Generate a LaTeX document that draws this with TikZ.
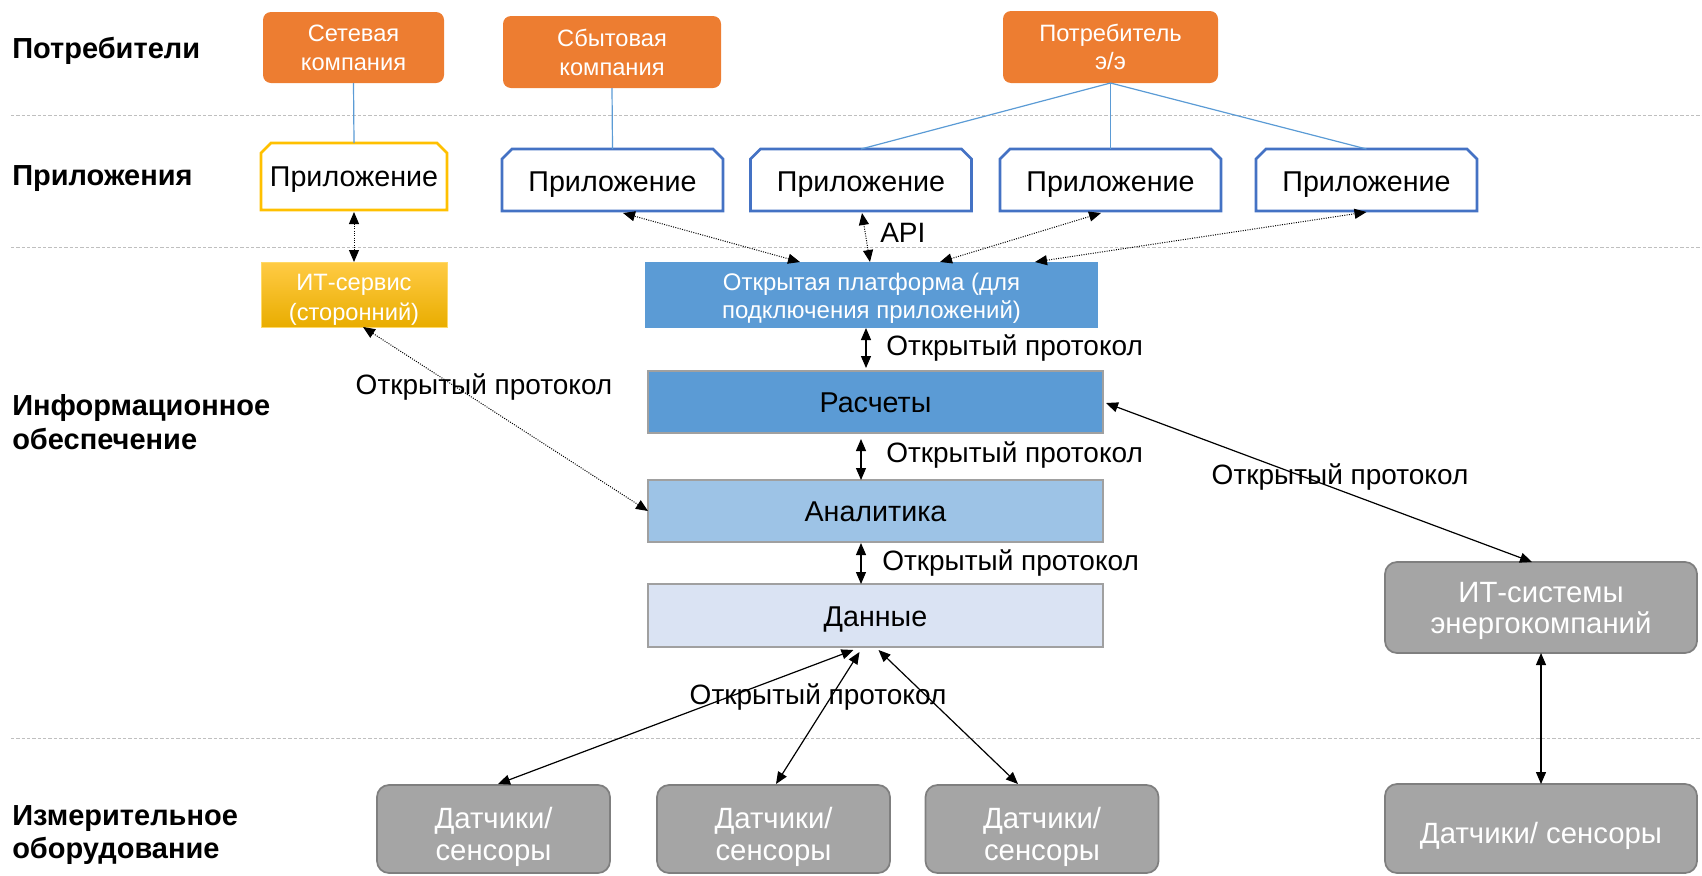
\documentclass[tikz,border=0pt]{standalone}
\usepackage{fontspec}
\setmainfont{Liberation Sans}
\usetikzlibrary{arrows.meta,calc}

\definecolor{orangeC}{HTML}{ED7D31}
\definecolor{blueC}{HTML}{5B9BD5}
\definecolor{blueL}{HTML}{9DC3E6}
\definecolor{blueP}{HTML}{DAE3F3}
\definecolor{appBlue}{HTML}{4472C4}
\definecolor{appGold}{HTML}{FFC000}
\definecolor{grayF}{HTML}{A5A5A5}
\definecolor{grayD}{HTML}{7F7F7F}
\definecolor{layerEdge}{HTML}{A0A0A0}
\definecolor{sepC}{HTML}{BFBFBF}
\definecolor{goldT}{HTML}{FFCB45}
\definecolor{goldB}{HTML}{E9AD00}
\definecolor{goldEdge}{HTML}{FFD966}

\newcommand{\fsz}[2]{\fontsize{#1}{#2}\selectfont}
% stacked lines, baseline on the first line
\newcommand{\mlines}[1]{\begin{tabular}[t]{@{}c@{}}#1\end{tabular}}
\newcommand{\llines}[1]{\begin{tabular}[t]{@{}l@{}}#1\end{tabular}}

\begin{document}
\begin{tikzpicture}[x=0.75pt,y=-0.75pt,
  >={Triangle[length=9pt,width=7.5pt]},
  sz/.style 2 args={minimum width=#1*0.75pt,minimum height=#2*0.75pt},
  tb/.style 2 args={text height=#1,text depth=#2},
  basebox/.style={inner sep=0pt,outer sep=0pt},
  consumer/.style={basebox,rounded corners=6pt,fill=orangeC,text=white,font=\fsz{17.75}{21.75}},
  appbox/.style={basebox,font=\fsz{21.5}{25}},
  itserv/.style={basebox,top color=goldT,bottom color=goldB,draw=goldEdge,
    line width=0.6pt,text=white,font=\fsz{17.75}{22.5}},
  layer/.style={basebox,draw=layerEdge,line width=0.8pt,font=\fsz{21.5}{25},tb={15pt}{0pt}},
  grayb/.style={basebox,rounded corners=9pt,fill=grayF,draw=grayD,line width=1.3pt,
    text=white,font=\fsz{22}{24}},
  rowlabel/.style={inner sep=0pt,font=\bfseries\fsz{21.75}{26}},
  plab/.style={inner sep=0pt,font=\fsz{21}{24}},
  sep/.style={sepC,line width=0.75pt,dash pattern=on 2.5pt off 1.5pt},
  link/.style={blueC,line width=0.9pt},
  flow/.style={<->,line width=0.9pt},
  dflow/.style={<->,line width=0.75pt,densely dotted}
]
\useasboundingbox (0,0) rectangle (1702,875);

% row separators
\draw[sep] (11,115) -- (1702,115);
\draw[sep] (11,247) -- (1702,247);
\draw[sep] (11,738) -- (1702,738);

% row titles
\node[rowlabel,anchor=base west] (tcons) at (12,58) {Потребители};
\node[rowlabel,anchor=base west] (tapps) at (12,185) {Приложения};
\node[rowlabel,anchor=base west] (tinfo) at (12,415) {\llines{Информационное\\обеспечение}};
\node[rowlabel,anchor=base west,font=\bfseries\fsz{21.75}{24.75}] (tmeas) at (12,825)
  {\llines{Измерительное\\оборудование}};

% consumers
\node[consumer,sz={181}{71},tb={0pt}{8.7pt}] (net)  at (353.5,47.5) {\mlines{Сетевая\\компания}};
\node[consumer,sz={218}{72},tb={0pt}{8pt}]   (sale) at (612,52)     {\mlines{Сбытовая\\компания}};
\node[consumer,sz={215}{72},tb={0pt}{9pt},font=\fsz{17.75}{21}] (user) at (1110.5,47) {\mlines{Потребитель\\э/э}};

% applications
\node[appbox,sz={186}{67},tb={15pt}{0pt}]    (app0) at (354,176.5)  {Приложение};
\node[appbox,sz={221}{62},tb={17.25pt}{0pt}] (app1) at (612.5,180)  {Приложение};
\node[appbox,sz={221}{62},tb={17.25pt}{0pt}] (app2) at (861,180)    {Приложение};
\node[appbox,sz={221}{62},tb={17.25pt}{0pt}] (app3) at (1110.5,180) {Приложение};
\node[appbox,sz={221}{62},tb={17.25pt}{0pt}] (app4) at (1366.5,180) {Приложение};
% application outlines with clipped upper corners
\foreach \n/\c in {app0/appGold,app1/appBlue,app2/appBlue,app3/appBlue,app4/appBlue}
  \draw[\c,line width=2pt,line join=miter]
    (\n.south west) -- ($(\n.north west)+(0,10)$) -- ($(\n.north west)+(10,0)$)
    -- ($(\n.north east)+(-10,0)$) -- ($(\n.north east)+(0,10)$) -- (\n.south east) -- cycle;

% information layers
\node[itserv,sz={186}{65},tb={0pt}{6.75pt}] (its) at (354,294.5) {\mlines{ИТ-сервис\\(сторонний)}};
\node[basebox,fill=blueC,text=white,font=\fsz{18}{21},sz={453}{66},tb={0pt}{7.5pt}] (plat) at (871.5,295)
  {\mlines{Открытая платформа (для\\подключения приложений)}};
\node[layer,fill=blueC,sz={455}{62}] (rasch) at (875.5,402)   {Расчеты};
\node[layer,fill=blueL,sz={455}{62}] (anal)  at (875.5,511)   {Аналитика};
\node[layer,fill=blueP,sz={455}{63},tb={16pt}{0pt}] (data) at (875.5,615.5) {Данные};
\node[grayb,sz={312}{91},tb={0pt}{8.25pt},font=\fsz{22}{23.25}] (itsys) at (1541,607.5)
  {\mlines{ИТ-системы\\энергокомпаний}};

% measuring equipment
\node[grayb,sz={233}{88},tb={0pt}{1.5pt}] (sen1) at (493.5,829) {\mlines{Датчики/\\сенсоры}};
\node[grayb,sz={233}{88},tb={0pt}{1.5pt}] (sen2) at (773.5,829) {\mlines{Датчики/\\сенсоры}};
\node[grayb,sz={233}{88},tb={0pt}{1.5pt}] (sen3) at (1042,829)  {\mlines{Датчики/\\сенсоры}};
\node[grayb,sz={312}{89},tb={21.75pt}{0pt}] (sen4) at (1541,828.5) {Датчики/ сенсоры};

% consumer links
\draw[link] (net.south) -- (app0.north);
\draw[link] (sale.south) -- (app1.north);
\draw[link] (user.south) -- (app2.north);
\draw[link] (user.south) -- (app3.north);
\draw[link] (user.south) -- (app4.north);

% application interfaces
\draw[dflow] ($(app0.south)+(0,2)$) -- (its.north);
\draw[dflow] ($(plat.north)+(-71.5,0)$) -- ($(app1.south)+(10.5,2)$);
\draw[dflow] ($(plat.north)+(-1.5,0)$) -- ($(app2.south)+(1,2)$);
\draw[dflow] ($(plat.north)+(68.5,0)$) -- ($(app3.south)+(-9.5,2)$);
\draw[dflow] ($(plat.north)+(163.5,0)$) -- ($(app4.south)+(0,1)$);
\draw[dflow] ($(its.south)+(9,0)$) -- (anal.west);
\node[plab,anchor=west] (api) at (880,233) {API};

% layer protocols
\draw[flow] ($(plat.south)+(-5.5,0)$) -- ($(rasch.north)+(-9.5,-3)$);
\draw[flow] ($(rasch.south)+(-14.5,6)$) -- ($(anal.north)+(-14.5,0)$);
\draw[flow] ($(anal.south)+(-14.5,1)$) -- ($(data.south)+(-14.5,-63)$);
\draw[flow] ($(rasch.east)+(3,1)$) -- ($(itsys.north)+(-9,0)$);
\draw[flow] (itsys.south) -- (sen4.north);
\draw[flow] ($(data.south)+(-22,3)$) -- ($(sen1.north)+(4.5,-1)$);
\draw[flow] ($(data.south)+(-16,5)$) -- ($(sen2.north)+(2.5,-1)$);
\draw[flow] ($(data.south)+(3,3)$) -- ($(sen3.north)+(-24,-1)$);

\node[plab,anchor=west] (pr1) at (886,348) {Открытый протокол};
\node[plab,anchor=west] (pr2) at (886,455) {Открытый протокол};
\node[plab,anchor=west] (pr3) at (882,563) {Открытый протокол};
\node[plab] (pr4) at (484,387)  {Открытый протокол};
\node[plab] (pr5) at (1340,477) {Открытый протокол};
\node[plab] (pr6) at (818,697)  {Открытый протокол};
\end{tikzpicture}
\end{document}
